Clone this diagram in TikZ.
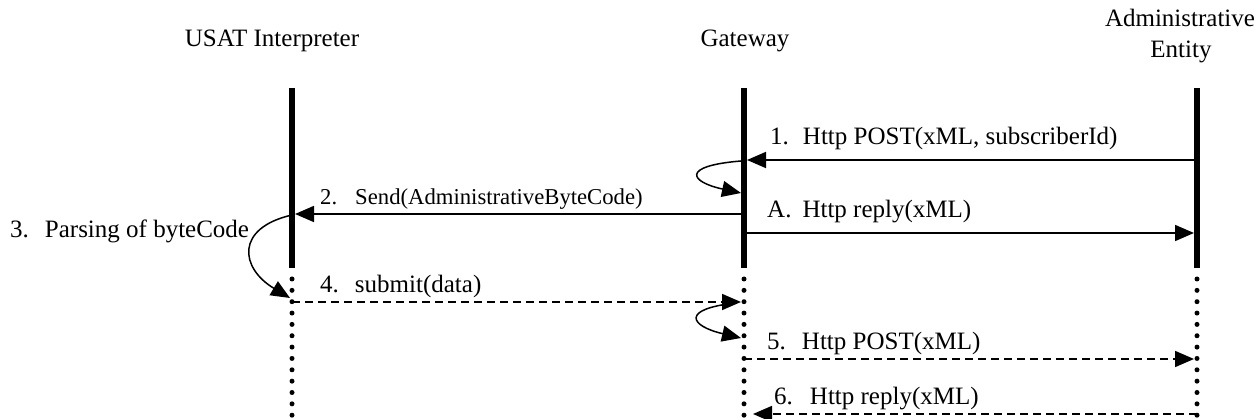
\documentclass[tikz,border=0pt]{standalone}
\usepackage{fontspec}
\setmainfont{Liberation Serif}
\usetikzlibrary{arrows.meta}
\begin{document}
\begin{tikzpicture}[x=1pt,y=-1pt,
  lifeline/.style={line width=6pt},
  lifedots/.style={line width=5pt, line cap=round, dash pattern=on 0pt off 11.35pt},
  msg/.style={line width=1.7pt, -{Triangle[length=19pt,width=16pt]}},
  reply/.style={msg, dash pattern=on 8pt off 5pt},
  selfmsg/.style={line width=1.5pt, -{Triangle[length=19pt,width=16pt]}},
  lbl/.style={anchor=base west, inner sep=0pt, font=\fontsize{25}{30}\selectfont},
  head/.style={anchor=base, inner sep=0pt, font=\fontsize{25}{30}\selectfont}]
\useasboundingbox (0,0) rectangle (1256,419);

% participants
\node[head] (usat) at (272,47) {USAT Interpreter};
\node[head] (gw) at (745,47) {Gateway};
\node[head] (adm1) at (1180,27) {Administrative};
\node[head] (adm2) at (1181,58) {Entity};

% lifelines: active part solid, later part dotted
\coordinate (uTop) at (292,88);   \coordinate (uMid) at (292,268);
\coordinate (gTop) at (744,88);   \coordinate (gMid) at (744,268);
\coordinate (aTop) at (1197,88);  \coordinate (aMid) at (1197,268);
\coordinate (uDot) at (292,279);  \coordinate (uEnd) at (292,422);
\coordinate (gDot) at (744,279);  \coordinate (gEnd) at (744,422);
\coordinate (aDot) at (1197,279); \coordinate (aEnd) at (1197,422);
\draw[lifeline] (uTop) -- (uMid);
\draw[lifeline] (gTop) -- (gMid);
\draw[lifeline] (aTop) -- (aMid);
\draw[lifedots] (uDot) -- (uEnd);
\draw[lifedots] (gDot) -- (gEnd);
\draw[lifedots] (aDot) -- (aEnd);

% message anchor points on the lifelines
\coordinate (a1) at (1197,160); \coordinate (g1) at (744,160);
\coordinate (g2) at (744,214);  \coordinate (u2) at (292,214);
\coordinate (gA) at (744,233);  \coordinate (aA) at (1197,233);
\coordinate (u4) at (292,302);  \coordinate (g4) at (744,302);
\coordinate (g5) at (744,359);  \coordinate (a5) at (1197,359);
\coordinate (a6) at (1197,414); \coordinate (g6) at (753,414);

% messages
\draw[msg, shorten >=3pt] (a1) -- (g1);
\draw[msg, shorten >=3pt] (g2) -- (u2);
\draw[msg, shorten >=3pt] (gA) -- (aA);
\draw[reply, shorten >=3pt] (u4) -- (g4);
\draw[reply, shorten >=3pt] (g5) -- (a5);
\draw[reply] (a6) -- (g6);

% self messages
\coordinate (s1a) at (741,161); \coordinate (s1b) at (741,193);
\draw[selfmsg] (s1a) .. controls (680,166) and (690,182) .. (s1b);
\coordinate (s3a) at (292,215); \coordinate (s3b) at (290,298);
\draw[selfmsg] (s3a) .. controls (235,228) and (240,268) .. (s3b);
\coordinate (s4a) at (736,303); \coordinate (s4b) at (741,338);
\draw[selfmsg] (s4a) .. controls (680,309) and (690,326) .. (s4b);

% labels
\node[lbl] (l1) at (770,145) {1.\hspace{14pt}Http POST(xML, subscriberId)};
\node[lbl, font=\fontsize{22.7}{28}\selectfont] (l2) at (320,205) {2.\hspace{18pt}Send(AdministrativeByteCode)};
\node[lbl] (lA) at (767,218) {A.\hspace{11pt}Http reply(xML)};
\node[lbl] (l3) at (10,238) {3.\hspace{16pt}Parsing of byteCode};
\node[lbl] (l4) at (320,293) {4.\hspace{16pt}submit(data)};
\node[lbl] (l5) at (767,350) {5.\hspace{16pt}Http POST(xML)};
\node[lbl] (l6) at (774,405) {6.\hspace{17pt}Http reply(xML)};
\end{tikzpicture}
\end{document}
